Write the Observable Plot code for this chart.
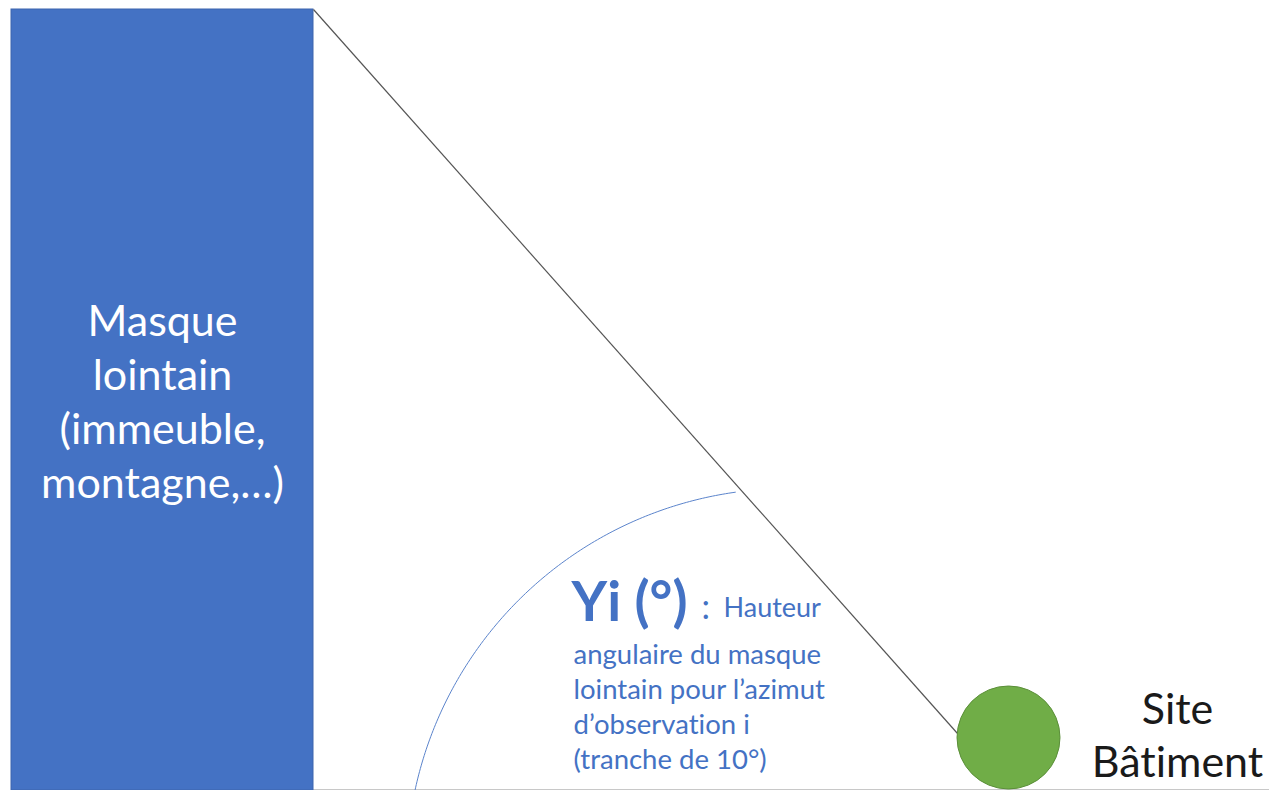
<!DOCTYPE html>
<html>
<head>
<meta charset="utf-8">
<script src="https://cdn.jsdelivr.net/npm/d3@7"></script>
<script src="https://cdn.jsdelivr.net/npm/@observablehq/plot@0.6"></script>
<style>
  html, body { margin: 0; padding: 0; background: #ffffff; }
  #chart svg { display: block; }
  #chart text { font-variant-ligatures: none; font-feature-settings: "liga" 0, "clig" 0; }
</style>
</head>
<body>
<div id="chart"></div>
<script>
// Scene geometry (diagram units = pixels of the 1269x790 canvas, y downward)
const maskBox = [{left: 11, right: 313, top: 9, bottom: 790}];
const sightLine = [{x1: 313, y1: 9, x2: 957, y2: 733}];
const site = [{x: 1008, y: 737, r: 51.5}];
const groundLine = [{y: 789, x1: 313, x2: 1269}];
const arcCircle = [{cx: 788, cy: 870, r: 382, fromDeg: 192, toDeg: 262}];

// Labels
const maskLabel = ["Masque", "lointain", "(immeuble,", "montagne,…)"];
const siteLabel = ["Site", "Bâtiment"];
const angleSymbol = "Yi (°)";
const angleColon = ":";
const angleFirst = "Hauteur";
const angleText = ["angulaire du masque", "lointain pour l’azimut", "d’observation i", "(tranche de 10°)"];

const blue = "#4472C4";
const green = "#70AD47";

const arc = arcCircle[0];
const arcPts = d3.range(arc.fromDeg, arc.toDeg + 0.5, 0.5).map(d => {
  const a = d * Math.PI / 180;
  return {x: arc.cx + arc.r * Math.cos(a), y: arc.cy + arc.r * Math.sin(a)};
});

const font = "Lato, 'Open Sans', sans-serif";

const chart = Plot.plot({
  width: 1269,
  height: 790,
  margin: 0,
  x: {domain: [0, 1269], axis: null},
  y: {domain: [790, 0], axis: null},
  r: {type: "identity"},
  style: {background: "#ffffff", fontFamily: font},
  marks: [
    Plot.ruleY(groundLine, {y: "y", x1: "x1", x2: "x2", stroke: "#c8c8c8", strokeWidth: 1}),
    Plot.rect(maskBox, {x1: "left", x2: "right", y1: "top", y2: "bottom", fill: blue, stroke: "#3c64ad", strokeWidth: 1}),
    Plot.link(sightLine, {x1: "x1", y1: "y1", x2: "x2", y2: "y2", stroke: "#555555", strokeWidth: 1.2}),
    Plot.line(arcPts, {x: "x", y: "y", stroke: "#5b84cc", strokeWidth: 1, curve: "linear"}),
    Plot.dot(site, {x: "x", y: "y", r: "r", fill: green, stroke: "#5b8f39", strokeWidth: 1}),
    Plot.text([maskLabel.join("\n")], {x: 162, y: 399, text: d => d, fill: "white", fontSize: 43, lineHeight: 54/43, textAnchor: "middle", lineAnchor: "middle"}),
    Plot.text([siteLabel.join("\n")], {x: 1177, y: 733, text: d => d, fill: "#1a1a1a", fontSize: 43, lineHeight: 53/43, textAnchor: "middle", lineAnchor: "middle"}),
    Plot.text([angleSymbol], {x: 571, y: 603, text: d => d, fill: blue, fontSize: 55, fontWeight: "bold", textAnchor: "start", lineAnchor: "middle"}),
    Plot.text([angleColon], {x: 701, y: 608, text: d => d, fill: blue, fontSize: 34, textAnchor: "start", lineAnchor: "middle"}),
    Plot.text([angleFirst], {x: 723, y: 608, text: d => d, fill: blue, fontSize: 27, textAnchor: "start", lineAnchor: "middle"}),
    Plot.text([angleText.join("\n")], {x: 573, y: 705, text: d => d, fill: blue, fontSize: 27.5, lineHeight: 35/27.5, textAnchor: "start", lineAnchor: "middle"})
  ]
});
document.getElementById("chart").appendChild(chart);
</script>
</body>
</html>
